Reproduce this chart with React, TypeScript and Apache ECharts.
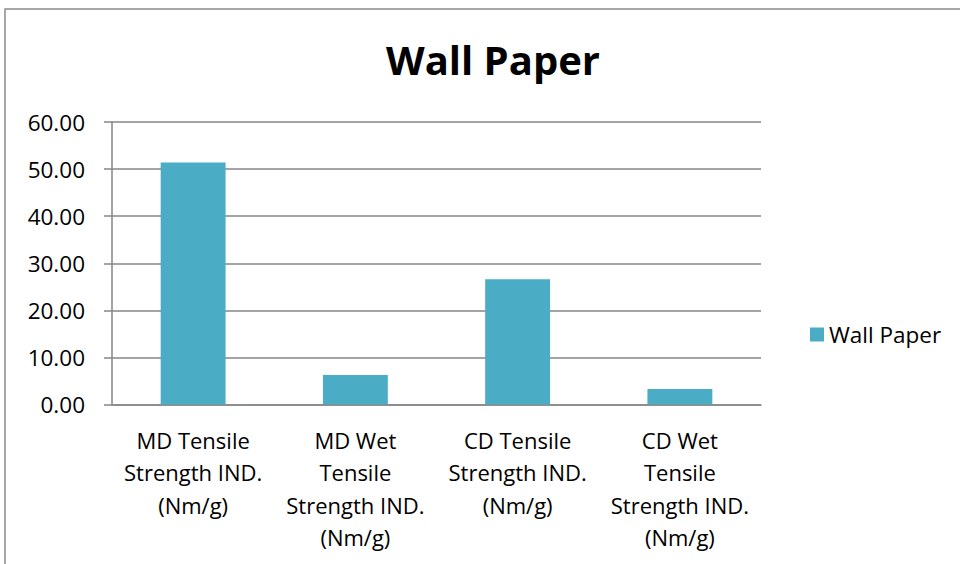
import React, { useEffect, useRef } from "react";
import * as echarts from "echarts";

const categories = [
  "MD Tensile\nStrength IND.\n(Nm/g)",
  "MD Wet\nTensile\nStrength IND.\n(Nm/g)",
  "CD Tensile\nStrength IND.\n(Nm/g)",
  "CD Wet\nTensile\nStrength IND.\n(Nm/g)",
];
const wallPaper = [51.4, 6.25, 26.6, 3.3];
const seriesName = "Wall Paper";
const FONT = "'Open Sans', 'Noto Sans', sans-serif";

export default function App() {
  const ref = useRef<HTMLDivElement>(null);

  useEffect(() => {
    if (!ref.current) return;
    const chart = echarts.init(ref.current, undefined, { renderer: "svg" });
    chart.setOption({
      animation: false,
      backgroundColor: "#ffffff",
      textStyle: { fontFamily: FONT },
      title: {
        text: "Wall Paper",
        left: 488,
        textAlign: "center",
        top: 34,
        textStyle: { fontSize: 40, fontWeight: "bold", color: "#000", fontFamily: FONT },
      },
      graphic: [
        {
          type: "rect",
          shape: { x: 5, y: 9, width: 1000, height: 700 },
          style: { fill: "none", stroke: "#8a8a8a", lineWidth: 1.5 },
          silent: true,
        },
      ],
      legend: {
        left: 805,
        top: 318,
        itemWidth: 14,
        itemHeight: 14,
        itemGap: 8,
        icon: "rect",
        textStyle: { fontSize: 22.5, color: "#000", fontFamily: FONT },
        data: [seriesName],
      },
      grid: { left: 112, right: 199, top: 122, bottom: 159.5 },
      xAxis: {
        type: "category",
        data: categories,
        axisLine: { lineStyle: { color: "#868686", width: 1.5 } },
        axisTick: { length: 7, lineStyle: { color: "#868686", width: 1.5 } },
        axisLabel: {
          interval: 0,
          color: "#000",
          fontSize: 22,
          lineHeight: 32.5,
          margin: 19,
          fontFamily: FONT,
        },
      },
      yAxis: {
        type: "value",
        min: 0,
        max: 60,
        interval: 10,
        axisLine: { show: true, lineStyle: { color: "#868686", width: 1.5 } },
        axisTick: { show: true, length: 8, lineStyle: { color: "#868686", width: 1.5 } },
        splitLine: { lineStyle: { color: "#868686", width: 1.5 } },
        axisLabel: {
          color: "#000",
          fontSize: 22.5,
          margin: 27,
          fontFamily: FONT,
          formatter: (v: number) => v.toFixed(2),
        },
      },
      series: [
        {
          name: seriesName,
          type: "bar",
          data: wallPaper,
          barWidth: "40%",
          itemStyle: { color: "#4BACC6" },
        },
      ],
    });
    return () => chart.dispose();
  }, []);

  return (
    <div
      ref={ref}
      style={{ position: "absolute", left: 0, top: 0, width: 960, height: 564 }}
    />
  );
}
